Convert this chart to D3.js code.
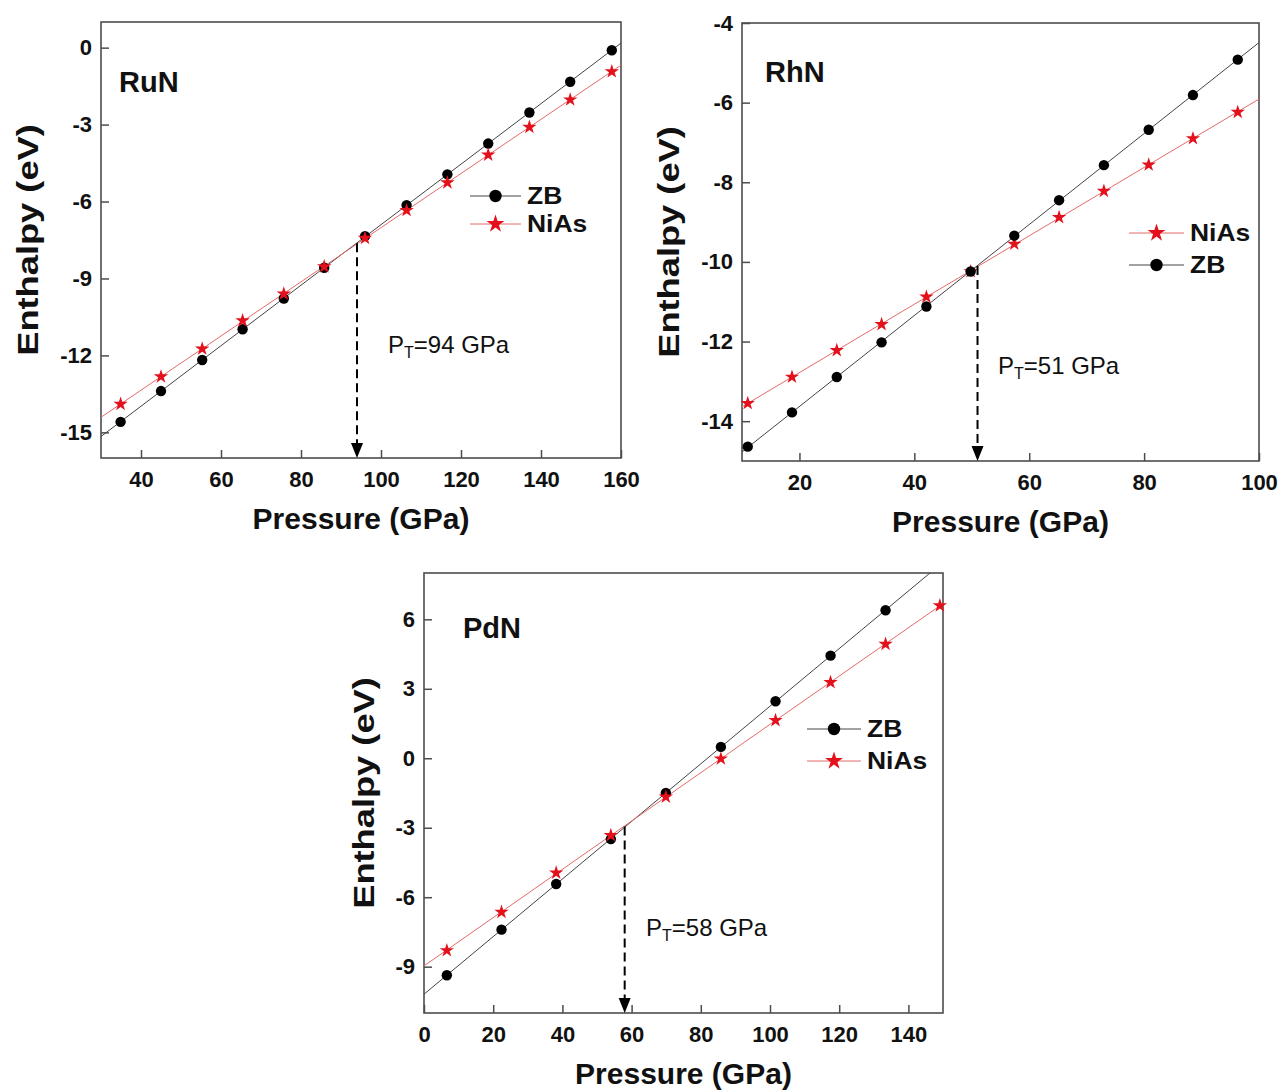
<!DOCTYPE html>
<html>
<head>
<meta charset="utf-8">
<script src="https://cdn.jsdelivr.net/npm/d3@7"></script>
<style>
  body { margin: 0; background: #fff; }
  svg text { font-family: "Liberation Sans", Arial, Helvetica, sans-serif; }
</style>
</head>
<body>
<svg id="fig" width="1285" height="1090"></svg>
<script>
// ---- Enthalpy vs pressure data (eV, GPa) ----
// RuN
const runPressure = [34.9, 45.0, 55.3, 65.4, 75.7, 85.8, 96.0, 106.4, 116.6, 126.8, 137.1, 147.3, 157.7];
const runZB       = [-14.59, -13.39, -12.18, -10.98, -9.78, -8.58, -7.35, -6.14, -4.94, -3.74, -2.53, -1.33, -0.10];
const runNiAs     = [-13.90, -12.83, -11.74, -10.64, -9.60, -8.54, -7.43, -6.34, -5.26, -4.18, -3.10, -2.03, -0.93];
// RhN
const rhnPressure = [11.0, 18.7, 26.5, 34.3, 42.1, 49.8, 57.4, 65.2, 73.0, 80.8, 88.5, 96.3];
const rhnZB       = [-14.64, -13.78, -12.89, -12.02, -11.12, -10.24, -9.34, -8.45, -7.57, -6.68, -5.81, -4.92];
const rhnNiAs     = [-13.55, -12.89, -12.22, -11.57, -10.88, -10.24, -9.55, -8.88, -8.22, -7.56, -6.90, -6.24];
// PdN
const pdnPressureZB   = [6.6, 22.4, 38.2, 54.0, 69.9, 85.8, 101.6, 117.5, 133.4];
const pdnZB           = [-9.37, -7.40, -5.43, -3.49, -1.50, 0.49, 2.46, 4.43, 6.39];
const pdnPressureNiAs = [6.6, 22.4, 38.2, 54.0, 69.9, 85.8, 101.6, 117.5, 133.4, 149.1];
const pdnNiAs         = [-8.30, -6.64, -4.95, -3.33, -1.67, -0.02, 1.64, 3.28, 4.93, 6.59];

// Transition pressures (GPa)
const compounds = ["RuN", "RhN", "PdN"];
const transitionP = [94, 51, 58];

// Axis ranges and ticks
const xDomains = [[30, 160], [10, 100], [0, 150]];
const yDomains = [[-16, 1], [-15, -4], [-11, 8]];
const xTicks = [[40, 60, 80, 100, 120, 140, 160], [20, 40, 60, 80, 100], [0, 20, 40, 60, 80, 100, 120, 140]];
const yTicks = [[0, -3, -6, -9, -12, -15], [-4, -6, -8, -10, -12, -14], [6, 3, 0, -3, -6, -9]];

// Series per panel, in plotting (and legend) order
const seriesByPanel = [
  [{ name: "ZB", p: runPressure, h: runZB }, { name: "NiAs", p: runPressure, h: runNiAs }],
  [{ name: "NiAs", p: rhnPressure, h: rhnNiAs }, { name: "ZB", p: rhnPressure, h: rhnZB }],
  [{ name: "ZB", p: pdnPressureZB, h: pdnZB }, { name: "NiAs", p: pdnPressureNiAs, h: pdnNiAs }]
];

// ---- Layout ----
const boxes = [
  { left: 101, right: 621, top: 22, bottom: 458, yTitleOff: 63 },
  { left: 742, right: 1259, top: 23, bottom: 461, yTitleOff: 63 },
  { left: 424, right: 943, top: 573, bottom: 1013, yTitleOff: 50 }
];
const legendPos = [
  { x0: 470, x1: 521, y: 196, dy: 28 },
  { x0: 1129, x1: 1184, y: 233, dy: 32 },
  { x0: 807, x1: 861, y: 729, dy: 32 }
];
const labelPos = [
  { nx: 119, ny: 92, px: 388, py: 353 },
  { nx: 765, ny: 82, px: 998, py: 374 },
  { nx: 463, ny: 638, px: 646, py: 936 }
];

const style = {
  ZB:   { line: "#444444", mark: "#000" },
  NiAs: { line: "#e46a6a", mark: "#e3111b" }
};
const frameColor = "#4d4d4d";
const textColor = "#111";

const svg = d3.select("#fig");
const starSym = d3.symbol().type(d3.symbolStar);
const fmt = d => String(d);

function linearFit(xs, ys) {
  const mx = d3.mean(xs), my = d3.mean(ys);
  let sxy = 0, sxx = 0;
  xs.forEach((xv, k) => { sxy += (xv - mx) * (ys[k] - my); sxx += (xv - mx) ** 2; });
  const b = sxy / sxx;
  return { at: x => my + b * (x - mx) };
}

function marker(sel, name, cx, cy, big) {
  if (name === "ZB") {
    sel.append("circle").attr("cx", cx).attr("cy", cy).attr("r", big ? 6.2 : 5.2)
      .attr("fill", style.ZB.mark);
  } else {
    sel.append("path").attr("d", starSym.size(big ? 100 : 64)())
      .attr("transform", `translate(${cx},${cy})`)
      .attr("fill", style.NiAs.mark);
  }
}

boxes.forEach((b, i) => {
  const x = d3.scaleLinear().domain(xDomains[i]).range([b.left, b.right]);
  const y = d3.scaleLinear().domain(yDomains[i]).range([b.bottom, b.top]);
  const g = svg.append("g");

  const clipId = "clip" + i;
  g.append("clipPath").attr("id", clipId).append("rect")
    .attr("x", b.left).attr("y", b.top)
    .attr("width", b.right - b.left).attr("height", b.bottom - b.top);

  // Axes with inward ticks
  const xAxis = g.append("g").attr("transform", `translate(0,${b.bottom})`)
    .call(d3.axisBottom(x).tickValues(xTicks[i]).tickFormat(fmt)
      .tickSizeInner(-8).tickSizeOuter(0).tickPadding(13));
  const yAxis = g.append("g").attr("transform", `translate(${b.left},0)`)
    .call(d3.axisLeft(y).tickValues(yTicks[i]).tickFormat(fmt)
      .tickSizeInner(-8).tickSizeOuter(0).tickPadding(9));
  [xAxis, yAxis].forEach(a => {
    a.select(".domain").remove();
    a.selectAll(".tick line").attr("stroke", frameColor).attr("stroke-width", 1.5);
    a.selectAll(".tick text").attr("fill", textColor).attr("font-size", 22)
      .attr("font-weight", "bold").style("font-family", '"Liberation Sans", Arial, sans-serif');
  });

  // Plot frame
  g.append("rect").attr("x", b.left).attr("y", b.top)
    .attr("width", b.right - b.left).attr("height", b.bottom - b.top)
    .attr("fill", "none").attr("stroke", frameColor).attr("stroke-width", 1.6);

  // Fitted lines across the full pressure range
  const series = seriesByPanel[i];
  const fits = {};
  const lineGen = d3.line().x(d => x(d[0])).y(d => y(d[1]));
  const dom = xDomains[i];
  series.forEach(s => {
    const f = linearFit(s.p, s.h);
    fits[s.name] = f;
    g.append("path").attr("clip-path", `url(#${clipId})`)
      .attr("d", lineGen([[dom[0], f.at(dom[0])], [dom[1], f.at(dom[1])]]))
      .attr("fill", "none").attr("stroke", style[s.name].line).attr("stroke-width", 1);
  });

  // Data markers
  series.forEach(s => {
    const mg = g.append("g");
    s.p.forEach((p, k) => marker(mg, s.name, x(p), y(s.h[k]), false));
  });

  // Transition arrow
  const pt = transitionP[i];
  const hCross = (fits.ZB.at(pt) + fits.NiAs.at(pt)) / 2;
  const ax = x(pt), headH = 15, headW = 12;
  g.append("line").attr("x1", ax).attr("x2", ax)
    .attr("y1", y(hCross)).attr("y2", b.bottom - headH + 1)
    .attr("stroke", "#000").attr("stroke-width", 2).attr("stroke-dasharray", "9,5");
  g.append("path")
    .attr("d", `M${ax - headW / 2},${b.bottom - headH} L${ax + headW / 2},${b.bottom - headH} L${ax},${b.bottom} Z`)
    .attr("fill", "#000");

  // Compound name
  const lp = labelPos[i];
  g.append("text").attr("x", lp.nx).attr("y", lp.ny).attr("font-size", 29)
    .attr("font-weight", "bold").attr("fill", textColor).text(compounds[i]);

  // Transition pressure label
  const t = g.append("text").attr("x", lp.px).attr("y", lp.py).attr("font-size", 24).attr("fill", textColor);
  t.append("tspan").text("P");
  t.append("tspan").attr("font-size", 16).attr("dy", 5).text("T");
  t.append("tspan").attr("dy", -5).text(`=${pt} GPa`);

  // Legend (wide lettering)
  const L = legendPos[i];
  series.forEach((s, k) => {
    const ly = L.y + k * L.dy;
    g.append("line").attr("x1", L.x0).attr("x2", L.x1).attr("y1", ly).attr("y2", ly)
      .attr("stroke", style[s.name].line).attr("stroke-width", 1);
    marker(g, s.name, (L.x0 + L.x1) / 2, ly, true);
    g.append("text").attr("transform", `translate(${L.x1 + 6},${ly}) scale(1.15,1)`)
      .attr("dy", "0.36em").attr("font-size", 23).attr("font-weight", "bold")
      .attr("fill", textColor).text(s.name);
  });

  // Axis titles
  g.append("text").attr("x", (b.left + b.right) / 2).attr("y", b.bottom + 71)
    .attr("text-anchor", "middle").attr("font-size", 30).attr("font-weight", "bold")
    .attr("fill", textColor).text("Pressure (GPa)");
  g.append("text")
    .attr("transform", `translate(${b.left - b.yTitleOff},${(b.top + b.bottom) / 2}) rotate(-90) scale(1.25,1)`)
    .attr("text-anchor", "middle").attr("font-size", 29).attr("font-weight", "bold")
    .attr("fill", textColor).text("Enthalpy (eV)");
});
</script>
</body>
</html>
